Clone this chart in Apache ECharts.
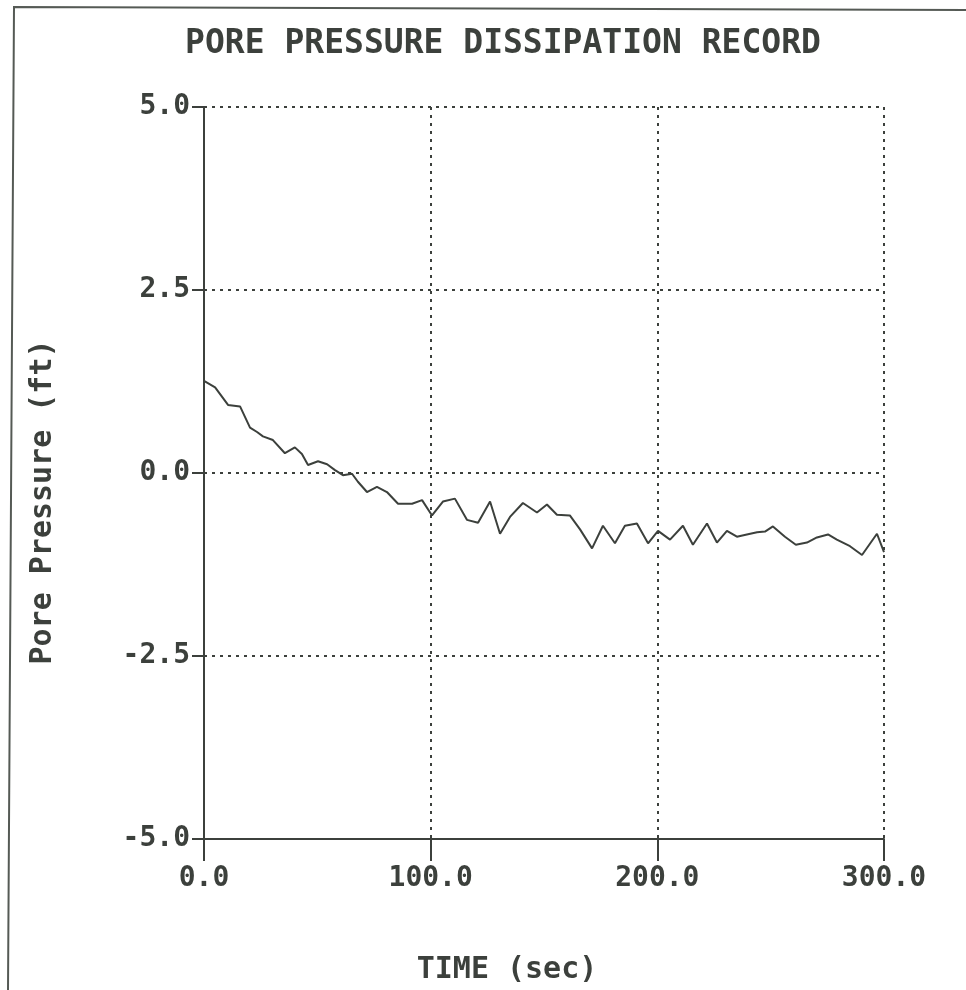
<!DOCTYPE html>
<html>
<head>
<meta charset="utf-8">
<script src="https://cdn.jsdelivr.net/npm/echarts@6/dist/echarts.min.js"></script>
<style>
html,body{margin:0;padding:0;background:#fff;}
#chart{width:966px;height:990px;}
</style>
</head>
<body>
<div id="chart"></div>
<script>
var chartTitle = 'PORE PRESSURE DISSIPATION RECORD';
var xAxisTitle = 'TIME (sec)';
var yAxisTitle = 'Pore Pressure (ft)';

var timeSec = [0, 4.9, 10.6, 15.9, 20.3, 23.4, 26, 30.4, 35.7, 40.1,
  43.2, 45.9, 50.3, 54.3, 57.8, 61.3, 65.3, 67.9, 71.9, 76.3,
  80.7, 85.6, 91.8, 96.2, 100.6, 105.4, 110.7, 116, 120.9, 126.2,
  130.6, 135, 140.7, 146.9, 151.3, 155.7, 161.4, 165.9, 171.2, 176,
  181.3, 185.7, 191, 195.9, 200.3, 205.6, 211.3, 215.7, 221.9, 226.3,
  230.7, 235.1, 239.5, 244, 247.5, 251, 256.3, 261.1, 266, 270.4,
  275.3, 279.2, 285, 290.3, 296.9, 300];

var porePressure = [1.26, 1.17, 0.93, 0.91, 0.62, 0.56, 0.50, 0.45, 0.27, 0.35,
  0.26, 0.11, 0.16, 0.12, 0.04, -0.03, -0.01, -0.12, -0.26, -0.19,
  -0.26, -0.42, -0.42, -0.37, -0.58, -0.39, -0.35, -0.64, -0.68, -0.39,
  -0.83, -0.60, -0.41, -0.54, -0.43, -0.57, -0.58, -0.77, -1.03, -0.72,
  -0.96, -0.72, -0.69, -0.96, -0.79, -0.91, -0.72, -0.98, -0.69, -0.95,
  -0.79, -0.87, -0.84, -0.81, -0.80, -0.73, -0.87, -0.98, -0.95, -0.88,
  -0.84, -0.91, -1.00, -1.12, -0.83, -1.08];

var xTicks = [0, 100, 200, 300];
var yTicks = [-5, -2.5, 0, 2.5, 5];

var seriesData = timeSec.map(function (t, i) { return [t, porePressure[i]]; });

var ink = '#3c403c';
var font = 'DejaVu Sans Mono';

var chart = echarts.init(document.getElementById('chart'), null, {renderer: 'canvas'});
chart.setOption({
  backgroundColor: '#ffffff',
  animation: false,
  title: {
    text: chartTitle,
    left: 498,
    top: 23,
    textAlign: 'center',
    textStyle: {fontFamily: font, fontSize: 33, fontWeight: 'bold', color: ink}
  },
  graphic: [{
    type: 'polyline',
    shape: {points: [[8, 990], [14, 7], [966, 10]]},
    style: {stroke: '#555a55', lineWidth: 2, fill: null},
    silent: true
  }],
  grid: {left: 204, right: 82, top: 107, bottom: 145, containLabel: false},
  xAxis: {
    type: 'value',
    min: xTicks[0],
    max: xTicks[xTicks.length - 1],
    interval: 100,
    name: xAxisTitle,
    nameLocation: 'middle',
    nameGap: 116,
    nameTextStyle: {fontFamily: font, fontSize: 30, fontWeight: 'bold', color: ink, padding: [0, 74, 0, 0]},
    axisLine: {show: true, onZero: false, lineStyle: {color: ink, width: 2}},
    axisTick: {show: true, inside: false, length: 22, lineStyle: {color: ink, width: 2}},
    axisLabel: {
      margin: 26,
      fontFamily: font, fontSize: 28, fontWeight: 'bold', color: ink,
      formatter: function (v) { return v.toFixed(1); }
    },
    splitLine: {show: true, lineStyle: {color: ink, width: 2, type: [3, 5]}}
  },
  yAxis: {
    type: 'value',
    min: yTicks[0],
    max: yTicks[yTicks.length - 1],
    interval: 2.5,
    name: yAxisTitle,
    nameLocation: 'middle',
    nameGap: 146,
    nameTextStyle: {fontFamily: font, fontSize: 30, fontWeight: 'bold', color: ink, padding: [0, 58, 0, 0]},
    axisLine: {show: true, onZero: false, lineStyle: {color: ink, width: 2}},
    axisTick: {show: true, inside: false, length: 12, lineStyle: {color: ink, width: 2}},
    axisLabel: {
      margin: 14,
      fontFamily: font, fontSize: 28, fontWeight: 'bold', color: ink,
      formatter: function (v) { return v.toFixed(1); }
    },
    splitLine: {show: true, lineStyle: {color: ink, width: 2, type: [3, 5]}}
  },
  series: [{
    type: 'line',
    data: seriesData,
    showSymbol: false,
    symbol: 'none',
    lineStyle: {color: ink, width: 2},
    z: 3
  }]
});
</script>
</body>
</html>
